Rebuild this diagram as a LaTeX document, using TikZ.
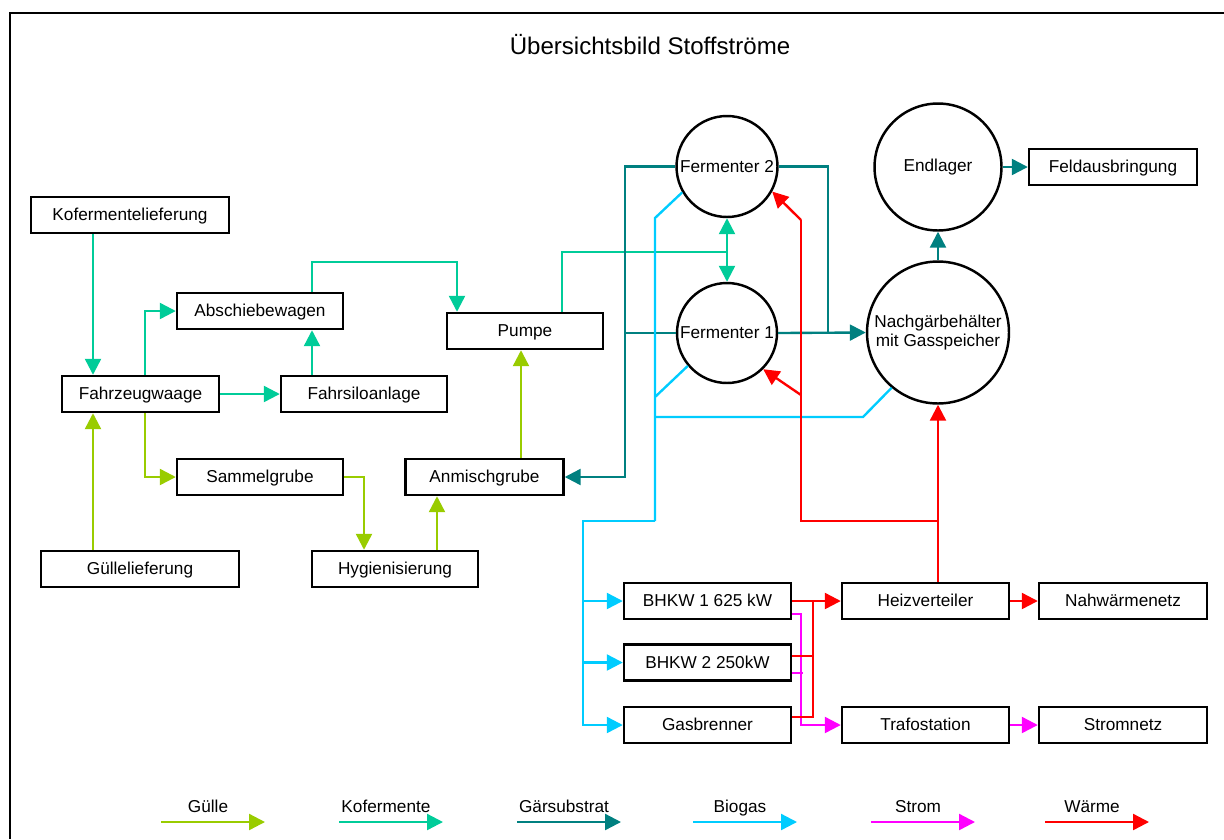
\documentclass[tikz,border=0pt]{standalone}
\usepackage{fontspec}
\setmainfont{Liberation Sans}
\usetikzlibrary{arrows.meta}

\definecolor{guelle}{HTML}{99CC00}
\definecolor{kofer}{HTML}{00CC99}
\definecolor{gaer}{HTML}{008080}
\definecolor{biogas}{HTML}{00CCFF}
\definecolor{strom}{HTML}{FF00FF}
\definecolor{waerme}{HTML}{FF0000}

\begin{document}
\begin{tikzpicture}[x=0.02cm, y=-0.02cm,
  font=\fontsize{9.8}{11}\selectfont,
  box/.style={draw, line width=1.4pt, minimum width=3.32cm, minimum height=0.72cm,
    inner sep=0pt, text height=1.55ex, text depth=0.35ex},
  tank/.style={draw, circle, line width=1.4pt, inner sep=0pt, align=center},
  arr/.style={-{Triangle[length=0.32cm, width=0.32cm]}},
  gue/.style={draw=guelle, line width=1.35pt},
  kof/.style={draw=kofer, line width=1.35pt},
  gae/.style={draw=gaer, line width=1.35pt},
  bio/.style={draw=biogas, line width=1.35pt},
  str/.style={draw=strom, line width=1.35pt},
  wae/.style={draw=waerme, line width=1.35pt}]
  \useasboundingbox (0,0) rectangle (1224,839);
  % Rahmen und Titel
  \draw[line width=1.2pt] (1224,13) -- (10,13) -- (10,839);
  \node[font=\fontsize{13.7}{16}\selectfont] (titel) at (650,45) {Übersichtsbild Stoffströme};

  % Anlieferung und Vorbehandlung
  \node[box, minimum width=3.96cm] (kl) at (130,215)   {Kofermentelieferung};
  \node[box, minimum width=3.14cm] (fw) at (140.5,394) {Fahrzeugwaage};
  \node[box] (ab) at (260,311) {Abschiebewagen};
  \node[box] (fs) at (364,394) {Fahrsiloanlage};
  \node[box] (sg) at (260,477) {Sammelgrube};
  \node[box, minimum width=3.96cm] (gl) at (140,569) {Güllelieferung};
  \node[box] (hy) at (395,569) {Hygienisierung};
  \node[box, minimum width=3.16cm] (am) at (484.5,477) {Anmischgrube};
  \node[box, minimum width=3.12cm] (pu) at (525,331)   {Pumpe};

  % Behälter
  \node[tank, minimum size=2.02cm] (f2) at (727,166.5) {Fermenter 2};
  \node[tank, minimum size=2.0cm]  (f1) at (727,333)   {Fermenter 1};
  \node[tank, minimum size=2.84cm] (ng) at (938,332.5) {Nachgärbehälter\\mit Gasspeicher};
  \node[tank, minimum size=2.54cm] (el) at (938,167)   {Endlager};
  \node[box, minimum width=3.36cm] (fa) at (1113,167) {Feldausbringung};

  % Verwertung
  \node[box, minimum width=3.34cm] (b1) at (707.5,601)   {BHKW 1 625 kW};
  \node[box, minimum width=3.34cm] (b2) at (707.5,662.5) {BHKW 2 250kW};
  \node[box, minimum width=3.34cm] (gb) at (707.5,725)   {Gasbrenner};
  \node[box, minimum width=3.34cm] (hv) at (925.5,601)   {Heizverteiler};
  \node[box, minimum width=3.36cm] (nw) at (1123,601)    {Nahwärmenetz};
  \node[box, minimum width=3.34cm] (tr) at (925.5,725)   {Trafostation};
  \node[box, minimum width=3.36cm] (sn) at (1123,725)    {Stromnetz};

  % Leitungsachsen
  \coordinate (xa) at (93,0);
  \coordinate (xb) at (145,0);
  \coordinate (xc) at (312,0);
  \coordinate (xd) at (364,0);
  \coordinate (xe) at (437,0);
  \coordinate (xf) at (521,0);
  \coordinate (xg) at (562,0);
  \coordinate (xo) at (457,0);
  \coordinate (xh) at (625,0);
  \coordinate (xm) at (828,0);
  \coordinate (xj) at (583,0);
  \coordinate (xk) at (801,0);
  \coordinate (kt) at (312,262);
  \coordinate (kj) at (727,252);
  \coordinate (bt) at (655,218);
  \coordinate (bf) at (655,397);
  \coordinate (bn) at (863,417);
  \coordinate (bk) at (655,521);
  \coordinate (wj) at (938,521);
  \coordinate (wt) at (801,220);
  \coordinate (wm) at (801,395);

  % Kofermente
  \draw[kof, arr] (kl.south -| xa) -- (fw.north -| xa);
  \draw[kof, arr] (fw.north -| xb) |- (ab.west);
  \draw[kof, arr] (fw.east) -- (fs.west);
  \draw[kof, arr] (fs.north -| xc) -- (ab.south -| xc);
  \draw[kof, arr] (ab.north -| xc) -- (kt) -| (pu.north -| xo);
  \draw[kof] (pu.north -| xg) |- (kj);
  \draw[kof, arr] (kj) -- (f2.south);
  \draw[kof, arr] (kj) -- (f1.north);

  % Guelle
  \draw[gue, arr] (gl.north -| xa) -- (fw.south -| xa);
  \draw[gue, arr] (fw.south -| xb) |- (sg.west);
  \draw[gue, arr] (sg.east) -| (hy.north -| xd);
  \draw[gue, arr] (hy.north -| xe) -- (am.south -| xe);
  \draw[gue, arr] (am.north -| xf) -- (pu.south -| xf);

  % Gaersubstrat
  \draw[gae, arr] (f2.west) -| (xh |- am.east) -- (am.east);
  \draw[gae] (f1.west) -- (f1.west -| xh);
  \draw[gae] (f2.east) -| (f1.east -| xm);
  \draw[gae, arr] (f1.east) -- (ng.west);
  \draw[gae, arr] (ng.north) -- (el.south);
  \draw[gae, arr] (el.east) -- (fa.west);

  % Biogas
  \draw[bio] (f2.210) -- (bt) -- (bk);
  \draw[bio] (f1.220) -- (bf);
  \draw[bio] (ng.230) -- (bn) -- (bn -| bt);
  \draw[bio, arr] (bk) -| (xj |- gb.west) -- (gb.west);
  \draw[bio, arr] (xj |- b1.west) -- (b1.west);
  \draw[bio, arr] (xj |- b2.west) -- (b2.west);

  % Strom
  \draw[str, arr] ([yshift=-0.26cm]b1.east) -| (xk |- tr.west) -- (tr.west);
  \draw[str] ([yshift=-0.21cm]b2.east) -- ++(10.5,0);
  \draw[str, arr] (tr.east) -- (sn.west);

  % Waerme
  \draw[wae, arr] (b1.east) -- (hv.west);
  \draw[wae] ([yshift=0.13cm]b2.east) -- ++(21,0);
  \draw[wae] ([yshift=0.16cm]gb.east) -- ++(21,0) -- ++(0,-116);
  \draw[wae, arr] (hv.east) -- (nw.west);
  \draw[wae, arr] (hv.north -| ng.south) -- (ng.south);
  \draw[wae] (wj) -| (wt);
  \draw[wae, arr] (wt) -- (f2.-29);
  \draw[wae, arr] (wm) -- (f1.-45);

  % Legende
  \foreach \x/\lab/\col [count=\i] in {161/Gülle/guelle, 339/Kofermente/kofer,
      517/Gärsubstrat/gaer, 693/Biogas/biogas, 871/Strom/strom, 1045/Wärme/waerme}{
    \node[text height=1.55ex, text depth=0.35ex] (lg\i) at (\x+47,807) {\lab};
    \draw[draw=\col, line width=1.35pt, arr] (\x,822) -- (\x+104,822);
  }
\end{tikzpicture}
\end{document}
